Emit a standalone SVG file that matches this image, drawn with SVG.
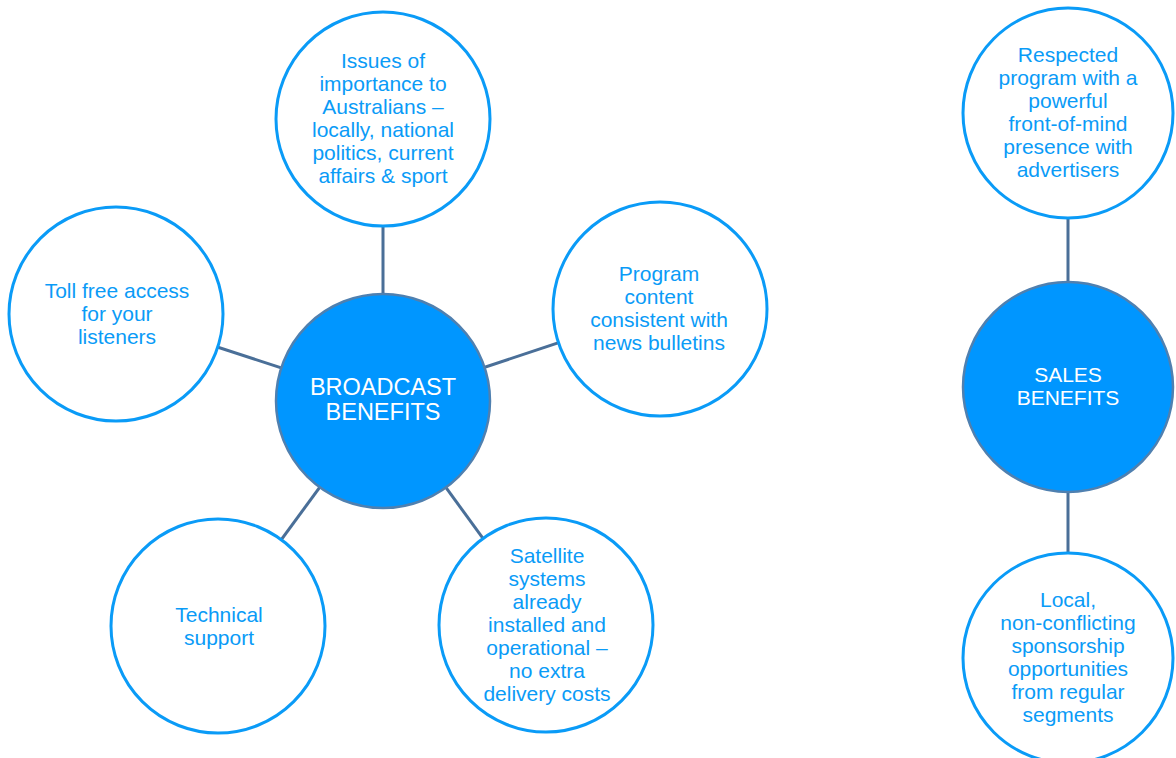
<svg xmlns="http://www.w3.org/2000/svg" width="1176" height="758" viewBox="0 0 1176 758">
<style>
.bg{fill:#ffffff}
.conn line{stroke:#4A6F98;stroke-width:3}
.leaf{fill:#ffffff;stroke:#0A9BF7;stroke-width:3}
.hub{fill:#0096FF;stroke:#4F80B0;stroke-width:2.5}
.lt{font-family:"Liberation Sans",Arial,sans-serif;font-size:21px;fill:#0A9BF7;text-anchor:middle}
.ht{font-family:"Liberation Sans",Arial,sans-serif;fill:#ffffff;text-anchor:middle}
</style>
<rect class="bg" x="0" y="0" width="1176" height="758"/>
<g id="connectors" class="conn">
<line x1="383" y1="401" x2="383" y2="119"/>
<line x1="383" y1="401" x2="116" y2="314"/>
<line x1="383" y1="401" x2="660" y2="309"/>
<line x1="383" y1="401" x2="218" y2="626"/>
<line x1="383" y1="401" x2="546" y2="625"/>
<line x1="1068" y1="387" x2="1068" y2="113"/>
<line x1="1068" y1="387" x2="1068" y2="658"/>
</g>
<g id="n-issues">
<circle class="leaf" cx="383" cy="119" r="107"/>
<text class="lt"><tspan x="383" y="68">Issues of</tspan><tspan x="383" y="91">importance to</tspan><tspan x="383" y="114">Australians –</tspan><tspan x="383" y="137">locally, national</tspan><tspan x="383" y="160">politics, current</tspan><tspan x="383" y="183">affairs &amp; sport</tspan></text>
</g>
<g id="n-toll">
<circle class="leaf" cx="116" cy="314" r="107"/>
<text class="lt"><tspan x="117" y="298">Toll free access</tspan><tspan x="117" y="321">for your</tspan><tspan x="117" y="344">listeners</tspan></text>
</g>
<g id="n-program">
<circle class="leaf" cx="660" cy="309" r="107"/>
<text class="lt"><tspan x="659" y="281">Program</tspan><tspan x="659" y="304">content</tspan><tspan x="659" y="327">consistent with</tspan><tspan x="659" y="350">news bulletins</tspan></text>
</g>
<g id="n-technical">
<circle class="leaf" cx="218" cy="626" r="107"/>
<text class="lt"><tspan x="219" y="622">Technical</tspan><tspan x="219" y="645">support</tspan></text>
</g>
<g id="n-satellite">
<circle class="leaf" cx="546" cy="625" r="107"/>
<text class="lt"><tspan x="547" y="563">Satellite</tspan><tspan x="547" y="586">systems</tspan><tspan x="547" y="609">already</tspan><tspan x="547" y="632">installed and</tspan><tspan x="547" y="655">operational –</tspan><tspan x="547" y="678">no extra</tspan><tspan x="547" y="701">delivery costs</tspan></text>
</g>
<g id="n-broadcast">
<circle class="hub" cx="383" cy="401" r="107"/>
<text class="ht" font-size="23.5"><tspan x="383" y="395">BROADCAST</tspan><tspan x="383" y="420">BENEFITS</tspan></text>
</g>
<g id="n-respected">
<circle class="leaf" cx="1068" cy="113" r="105"/>
<text class="lt"><tspan x="1068" y="62">Respected</tspan><tspan x="1068" y="85">program with a</tspan><tspan x="1068" y="108">powerful</tspan><tspan x="1068" y="131">front-of-mind</tspan><tspan x="1068" y="154">presence with</tspan><tspan x="1068" y="177">advertisers</tspan></text>
</g>
<g id="n-sales">
<circle class="hub" cx="1068" cy="387" r="105"/>
<text class="ht" font-size="21"><tspan x="1068" y="382">SALES</tspan><tspan x="1068" y="405">BENEFITS</tspan></text>
</g>
<g id="n-local">
<circle class="leaf" cx="1068" cy="658" r="105"/>
<text class="lt"><tspan x="1068" y="607">Local,</tspan><tspan x="1068" y="630">non-conflicting</tspan><tspan x="1068" y="653">sponsorship</tspan><tspan x="1068" y="676">opportunities</tspan><tspan x="1068" y="699">from regular</tspan><tspan x="1068" y="722">segments</tspan></text>
</g>
</svg>
